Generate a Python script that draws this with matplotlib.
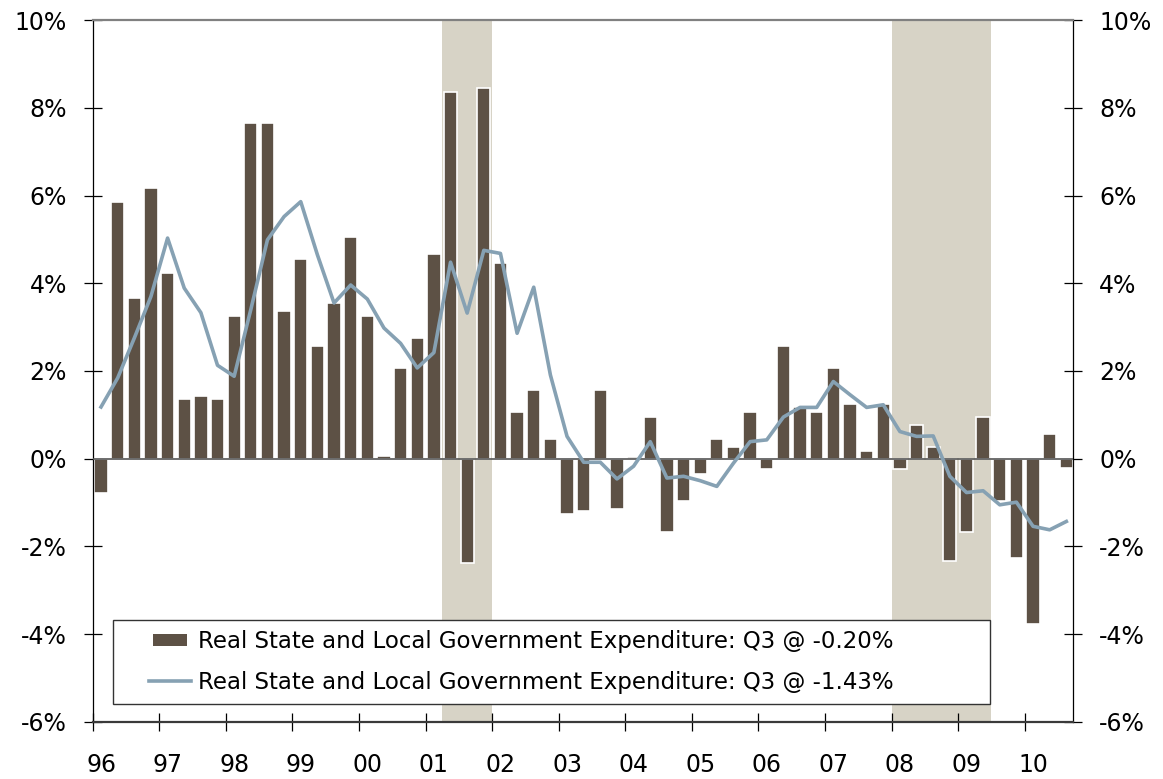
import numpy as np
import matplotlib
matplotlib.use("Agg")
import matplotlib.pyplot as plt
import matplotlib.patches as mpatches
from matplotlib.lines import Line2D
from matplotlib.legend_handler import HandlerPatch, HandlerLine2D

plt.rcParams['font.family'] = ['DejaVu Sans']

# quarterly data, 1996 Q1 .. 2010 Q3
start_year = 1996
bar_vals = [-0.77, 5.85, 3.67, 6.16, 4.24, 1.37, 1.44, 1.37, 3.25, 7.65,
            7.65, 3.36, 4.55, 2.56, 3.55, 5.05, 3.25, 0.07, 2.07, 2.75,
            4.66, 8.35, -2.38, 8.46, 4.46, 1.06, 1.56, 0.45, -1.27, -1.20,
            1.56, -1.15, 0.05, 0.95, -1.66, -0.96, -0.35, 0.46, 0.26, 1.06,
            -0.24, 2.56, 1.18, 1.06, 2.06, 1.25, 0.18, 1.25, -0.24, 0.76,
            0.26, -2.34, -1.66, 0.95, -0.97, -2.26, -3.76, 0.56, -0.20]
line_vals = [1.18, 1.84, 2.75, 3.70, 5.03, 3.89, 3.33, 2.13, 1.88, 3.40,
             4.99, 5.52, 5.86, 4.65, 3.55, 3.96, 3.64, 2.98, 2.63, 2.07,
             2.42, 4.48, 3.32, 4.75, 4.68, 2.86, 3.91, 1.91, 0.51, -0.08,
             -0.08, -0.46, -0.17, 0.39, -0.44, -0.40, -0.50, -0.63, -0.10, 0.39,
             0.43, 0.95, 1.17, 1.17, 1.76, 1.46, 1.17, 1.23, 0.62, 0.51,
             0.52, -0.40, -0.77, -0.73, -1.05, -0.99, -1.54, -1.62, -1.43]
recessions = [(2001.25, 2002.0), (2008.0, 2009.5)]
years = list(range(1996, 2011))
year_labels = [str(y)[-2:] for y in years]

bar_label = 'Real State and Local Government Expenditure: Q3 @ -0.20%'
line_label = 'Real State and Local Government Expenditure: Q3 @ -1.43%'

bar_color = '#5d5145'
line_color = '#86a1b3'
shade_color = '#d7d3c6'

x = start_year + (np.arange(len(bar_vals)) + 0.5) / 4

fig = plt.figure(figsize=(11.63, 7.79), dpi=100)
ax = fig.add_axes([0.0797, 0.0732, 0.9229 - 0.0797, 0.9743 - 0.0732])

for a, b in recessions:
    ax.axvspan(a, b, color=shade_color, lw=0, zorder=0)

ax.bar(x, bar_vals, width=0.2, color=bar_color, edgecolor='white',
       linewidth=1.2, zorder=2)
ax.axhline(0, color='#555555', lw=1.2, zorder=3)
ax.plot(x, line_vals, color=line_color, lw=2.6, zorder=4)

ax.set_xlim(1996, 2010.73)
ax.set_ylim(-6, 10)

# y axis on both sides
yt = np.arange(-6, 11, 2)
ax.set_yticks(yt)
ax.set_yticklabels([f'{v}%' for v in yt])
ax.tick_params(axis='y', which='major', left=True, right=True,
               labelleft=True, labelright=True, direction='inout',
               length=13, width=0.9, pad=12, labelsize=17, colors='black')

# x axis: ticks at year start, labels at first quarter
ax.set_xticks(years)
ax.set_xticklabels([''] * len(years))
ax.set_xticks([y + 0.125 for y in years], year_labels, minor=True)
ax.tick_params(axis='x', which='major', direction='inout', length=12.5,
               width=0.9)
ax.tick_params(axis='x', which='minor', length=0, pad=22, labelsize=17)

ax.spines['left'].set_linewidth(0.9)
ax.spines['right'].set_linewidth(0.9)
ax.spines['top'].set_color('#808080')
ax.spines['top'].set_linewidth(1.6)
ax.spines['bottom'].set_color('#3a3a3a')
ax.spines['bottom'].set_linewidth(1.6)


def bar_handle(legend, orig_handle, xdescent, ydescent, width, height, fontsize):
    h = 0.55 * fontsize
    inset = 0.15 * fontsize
    return mpatches.Rectangle((-xdescent + inset, -ydescent + (height - h) / 2),
                              width - 2 * inset, h)


h_bar = mpatches.Patch(facecolor=bar_color, edgecolor='none')
h_line = Line2D([], [], color=line_color, lw=2.6)
leg = ax.legend([h_bar, h_line], [bar_label, line_label],
                loc='center', bbox_to_anchor=(0.0204, 0.0242, 0.8946, 0.1225),
                mode='expand', borderaxespad=0, fontsize=16.5,
                handlelength=2.96, handletextpad=0.3, labelspacing=0.77,
                borderpad=0.45, fancybox=False, framealpha=1,
                handler_map={mpatches.Patch: HandlerPatch(patch_func=bar_handle, xpad=1.14),
                             Line2D: HandlerLine2D(xpad=1.14)})
leg.get_frame().set_edgecolor('#333333')
leg.get_frame().set_linewidth(1.0)
leg.set_zorder(10)

plt.savefig('out.png', dpi=100)
